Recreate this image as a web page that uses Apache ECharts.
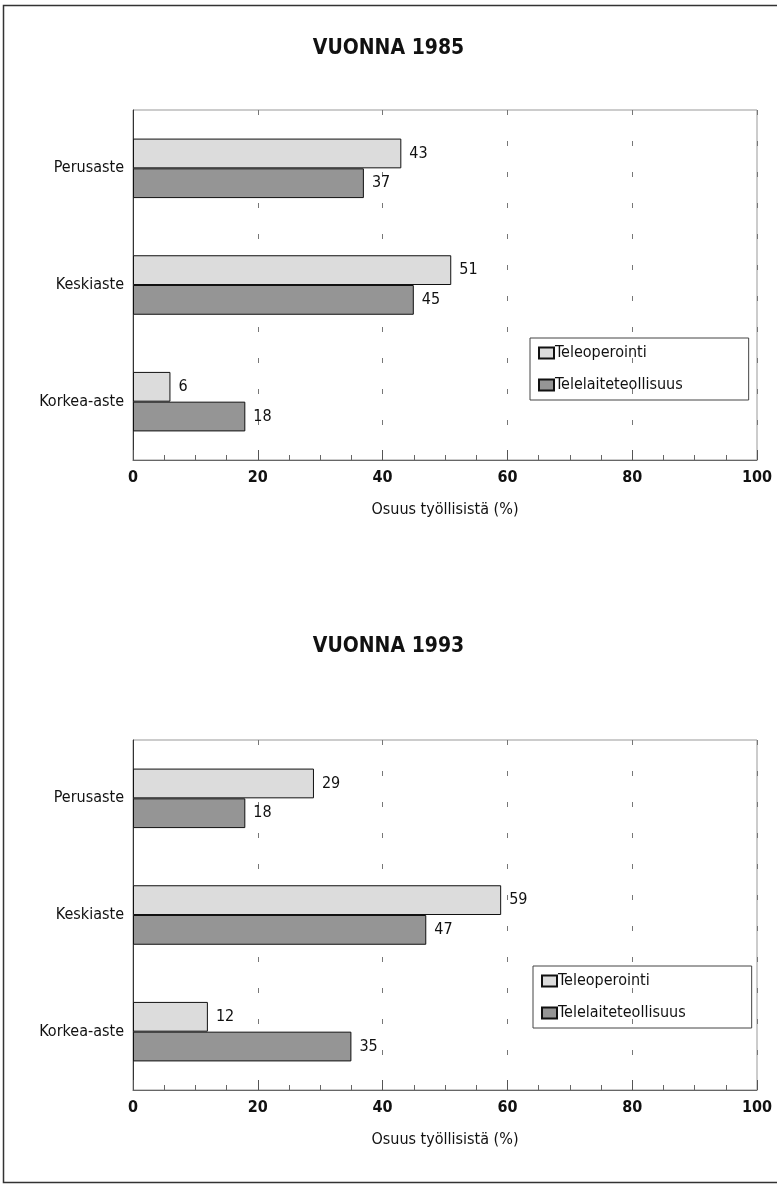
<!DOCTYPE html>
<html><head><meta charset="utf-8">
<script src="https://cdn.jsdelivr.net/npm/echarts@6/dist/echarts.min.js"></script>
<style>html,body{margin:0;padding:0;background:#fff}#c{width:777px;height:1187px}</style>
</head><body><div id="c"></div>
<script>
var categories = ['Perusaste', 'Keskiaste', 'Korkea-aste'];
var seriesNames = ['Teleoperointi', 'Telelaiteteollisuus'];
var tele1985 = [43, 51, 6];
var laite1985 = [37, 45, 18];
var tele1993 = [29, 59, 12];
var laite1993 = [18, 47, 35];
var titles = ['VUONNA 1985', 'VUONNA 1993'];
var axisName = 'Osuus työllisistä (%)';

var FONT = "'Liberation Sans Narrow', 'DejaVu Sans Condensed', 'Roboto Condensed', sans-serif";
var chart = echarts.init(document.getElementById('c'));
var grids = [{left:133, top:110, width:624, height:350}, {left:133, top:740, width:624, height:350}];
var colors = ['#dcdcdc', '#959595'];

function xAxis(i){
  return {type:'value', gridIndex:i, min:0, max:100, interval:20, splitNumber:5,
    name: axisName, nameLocation:'middle', nameGap:42,
    nameTextStyle:{fontFamily:FONT, fontSize:16, color:'#111'},
    axisLine:{show:true, lineStyle:{color:'#666', width:1}},
    axisTick:{show:true, inside:true, length:10, lineStyle:{color:'#555'}},
    minorTick:{show:true, splitNumber:4, length:5, lineStyle:{color:'#666'}},
    axisLabel:{fontFamily:FONT, fontSize:16, fontWeight:'bold', color:'#111', margin:10},
    splitLine:{show:true, lineStyle:{color:'#777', type:[5,26], width:1}}
  };
}
function yAxis(i){
  return {type:'category', gridIndex:i, data:categories, inverse:true,
    axisLine:{show:true, lineStyle:{color:'#333', width:1}},
    axisTick:{show:false},
    axisLabel:{fontFamily:FONT, fontSize:16, color:'#111', margin:9}
  };
}
function bar(name, data, idx, ci){
  return {name:name, type:'bar', xAxisIndex:idx, yAxisIndex:idx, data:data,
    barCategoryGap:'49%', barGap:'0%',
    itemStyle:{color:colors[ci], borderColor:'#111', borderWidth:1},
    label:{show:true, position:'right', distance:8, fontFamily:FONT, fontSize:16, color:'#111'}
  };
}
function legend(i, left, top){
  return {data:seriesNames, orient:'vertical', left:left, top:top, icon:'rect',
    itemWidth:15, itemHeight:11, itemGap:16,
    borderColor:'#444', borderWidth:1, padding:[7, 66, 7, 8],
    textStyle:{fontFamily:FONT, fontSize:16, color:'#111', padding:[0,0,0,-4]},
    seriesIndex:[i*2, i*2+1]
  };
}
chart.setOption({
  animation:false,
  title:[
    {text:titles[0], left:'center', top:33, textStyle:{fontFamily:FONT, fontSize:21, fontWeight:'bold', color:'#111'}},
    {text:titles[1], left:'center', top:631, textStyle:{fontFamily:FONT, fontSize:21, fontWeight:'bold', color:'#111'}}
  ],
  grid: grids.map(function(g){ return Object.assign({show:true, borderColor:'#999', borderWidth:1, containLabel:false}, g); }),
  xAxis:[xAxis(0), xAxis(1)],
  yAxis:[yAxis(0), yAxis(1)],
  legend:[legend(0, 530, 338), legend(1, 533, 966)],
  series:[
    bar(seriesNames[0], tele1985, 0, 0), bar(seriesNames[1], laite1985, 0, 1),
    bar(seriesNames[0], tele1993, 1, 0), bar(seriesNames[1], laite1993, 1, 1)
  ],
  graphic:[{type:'rect', shape:{x:3.5, y:5.5, width:790, height:1177}, style:{fill:null, stroke:'#333', lineWidth:1.5}, silent:true}]
});
</script></body></html>
